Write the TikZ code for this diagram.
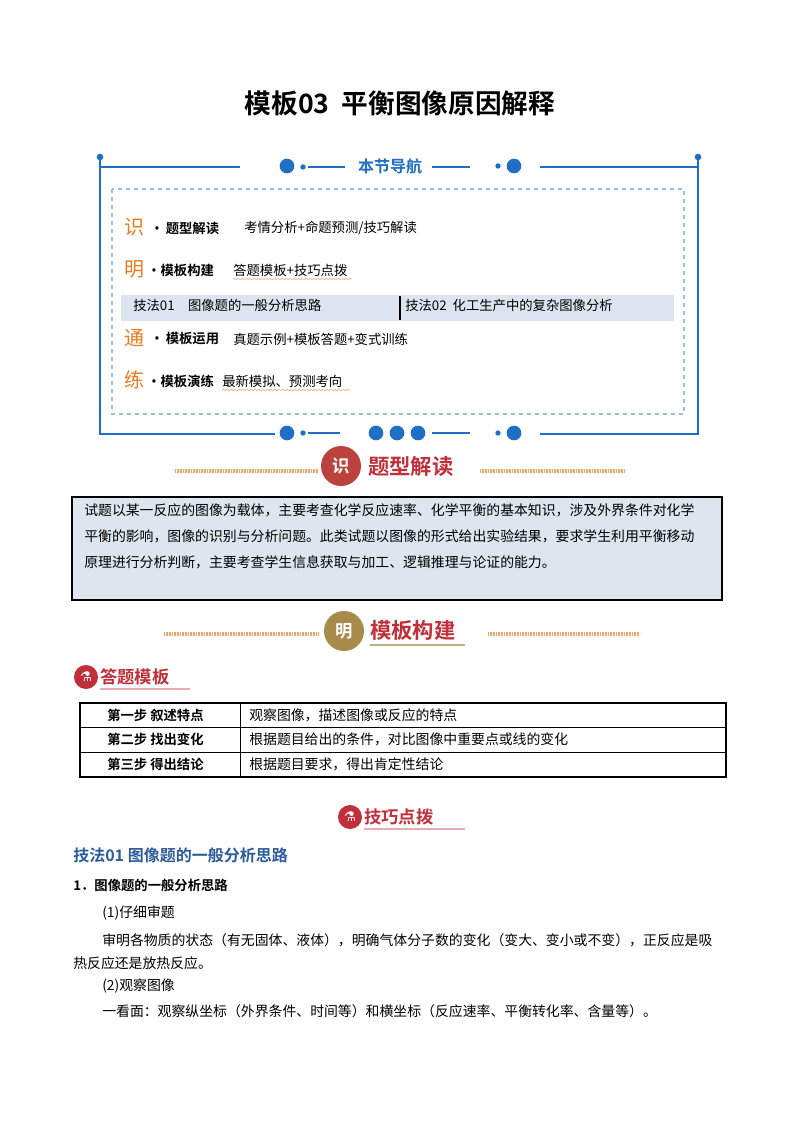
\documentclass[tikz,border=0pt]{standalone}
\usepackage{fontspec}
\setmainfont{Liberation Serif}
\newfontfamily\cjk{Noto Sans CJK SC}
\newfontfamily\cjkb{Noto Sans CJK SC Bold}
\newfontfamily\djv{DejaVu Sans}
\usetikzlibrary{decorations.pathmorphing}
\definecolor{navblue}{HTML}{1F6FC5}
\definecolor{orng}{HTML}{EE7B22}
\definecolor{band}{HTML}{DCE4F0}
\definecolor{boxbg}{HTML}{DDE5EF}
\definecolor{dred}{HTML}{C0303A}
\definecolor{hblue}{HTML}{2D5C9A}
\definecolor{gold}{HTML}{A88A4A}
\tikzset{
 txt/.style={anchor=west,inner sep=0pt,font=\cjk\fontsize{10}{12}\selectfont},
 ltxt/.style={anchor=west,inner sep=0pt,font=\cjk\fontsize{10.4}{12}\selectfont},
 bt/.style={anchor=west,inner sep=0pt,font=\cjkb\fontsize{10}{12}\selectfont},
 big/.style={anchor=west,inner sep=0pt,font=\cjk\fontsize{15}{18}\selectfont,text=orng},
 dot/.style={circle,fill=navblue,inner sep=0pt,minimum size=#1},
 hatch/.style={draw=orng!70,line width=2.5pt,dash pattern=on 0.6pt off 0.6pt},
 badge/.style={circle,fill=dred,text=white,inner sep=0pt,minimum size=18pt,font=\djv\fontsize{10}{10}\selectfont}
}
\begin{document}
\begin{tikzpicture}[x=0.75pt,y=-0.75pt]
\useasboundingbox (0,0) rectangle (800,1132);
\fill[white] (0,0) rectangle (800,1132);
\node[inner sep=0pt,font=\cjkb\fontsize{20}{24}\selectfont] (title) at (400,103) {模板03\ \ 平衡图像原因解释};
% nav frame
\draw[navblue,line width=1.2pt] (240,167) -| (100,434) -- (275,434);
\draw[navblue,line width=1.2pt] (540,167) -| (698,434) -- (540,434);
\node[dot=5pt] (c1) at (100,157) {}; \node[dot=5pt] (c2) at (698,157) {};
\draw[navblue,line width=1.2pt] (100,157)--(100,167);
\draw[navblue,line width=1.2pt] (698,157)--(698,167);
\node[dot=11pt] (d1) at (287,166) {}; \node[dot=4pt] (d2) at (303,167) {};
\draw[navblue,line width=1pt] (308,167)--(345,167);
\node[inner sep=0pt,font=\cjkb\fontsize{12}{14}\selectfont,text=navblue] (navt) at (390,166) {本节导航};
\draw[navblue,line width=1pt] (432,167)--(470,167);
\node[dot=4pt] (d3) at (498,166) {}; \node[dot=11pt] (d4) at (514,166) {};
\node[dot=11pt] (e1) at (287,433) {}; \node[dot=4pt] (e2) at (303,433) {};
\draw[navblue,line width=1pt] (308,433)--(340,433);
\node[dot=11pt] (e3) at (376,433) {}; \node[dot=11pt] (e4) at (397,433) {}; \node[dot=11pt] (e5) at (418,433) {};
\draw[navblue,line width=1pt] (432,433)--(470,433);
\node[dot=4pt] (e6) at (498,433) {}; \node[dot=11pt] (e7) at (514,433) {};
\draw[navblue!45,dashed,line width=0.8pt] (112,189) rectangle (684,414);
\fill[band] (121,295) rectangle (674,321);
\draw[black,line width=0.8pt] (400,296)--(400,320);
\node[big] (s1) at (124,227) {识};
\node[bt] (s1b) at (150,228) {·\,题型解读};
\node[txt] (s1c) at (244,228) {考情分析+命题预测/技巧解读};
\node[big] (s2) at (124,269) {明};
\node[bt] (s2b) at (147,270) {·模板构建};
\node[txt] (s2c) at (233,270) {答题模板+技巧点拨};
\draw[orng!70,decorate,decoration={snake,amplitude=0.6pt,segment length=3pt}] (233,279)--(352,279);
\node[txt] (k1) at (133,305) {技法01\quad 图像题的一般分析思路};
\node[txt] (k2) at (405,305) {技法02\ \ 化工生产中的复杂图像分析};
\node[big] (s3) at (124,338) {通};
\node[bt] (s3b) at (150,339) {·\,模板运用};
\node[txt] (s3c) at (233,339) {真题示例+模板答题+变式训练};
\node[big] (s4) at (124,380) {练};
\node[bt] (s4b) at (147,381) {·模板演练};
\node[txt] (s4c) at (222,381) {最新模拟、预测考向};
\draw[orng!70,decorate,decoration={snake,amplitude=0.6pt,segment length=3pt}] (222,390)--(350,390);
% section header 1
\draw[hatch] (175,471)--(318,471); \draw[hatch] (480,471)--(625,471);
\node[circle,fill=dred!80!gold,text=white,minimum size=30pt,inner sep=0pt,font=\cjkb\fontsize{13}{14}\selectfont] (h1) at (341,466) {识};
\node[anchor=west,inner sep=0pt,font=\cjkb\fontsize{16}{18}\selectfont,text=dred] (h1t) at (368,466) {题型解读};
% box
\draw[fill=boxbg,line width=0.8pt] (72,497) rectangle (722,600);
\node[ltxt] (i1) at (84,510) {试题以某一反应的图像为载体，主要考查化学反应速率、化学平衡的基本知识，涉及外界条件对化学};
\node[ltxt] (i2) at (84,536) {平衡的影响，图像的识别与分析问题。此类试题以图像的形式给出实验结果，要求学生利用平衡移动};
\node[ltxt] (i3) at (84,562) {原理进行分析判断，主要考查学生信息获取与加工、逻辑推理与论证的能力。};
% section header 2
\draw[hatch] (164,634)--(318,634); \draw[hatch] (488,634)--(640,634);
\node[circle,fill=gold,text=white,minimum size=30pt,inner sep=0pt,font=\cjkb\fontsize{13}{14}\selectfont] (h2) at (344,631) {明};
\node[anchor=west,inner sep=0pt,font=\cjkb\fontsize{16}{18}\selectfont,text=dred] (h2t) at (370,630) {模板构建};
\draw[gold!70,line width=1.5pt] (370,645)--(465,645);
% badge 1
\node[badge] (b1) at (86,677) {⚗};
\node[anchor=west,inner sep=0pt,font=\cjkb\fontsize{13}{15}\selectfont,text=dred] (b1t) at (100,677) {答题模板};
\draw[dred!40,line width=0.8pt] (100,689)--(190,689);
% table
\draw[line width=0.8pt] (80,703) rectangle (726,777);
\draw[line width=0.6pt] (80,727)--(726,727) (80,752)--(726,752) (240,703)--(240,777);
\node[bt] (t1) at (107,715) {第一步\ 叙述特点};
\node[bt] (t2) at (107,739) {第二步\ 找出变化};
\node[bt] (t3) at (107,764) {第三步\ 得出结论};
\node[ltxt] (u1) at (249,715) {观察图像，描述图像或反应的特点};
\node[ltxt] (u2) at (249,739) {根据题目给出的条件，对比图像中重要点或线的变化};
\node[ltxt] (u3) at (249,764) {根据题目要求，得出肯定性结论};
% badge 2
\node[badge] (b2) at (350,817) {⚗};
\node[anchor=west,inner sep=0pt,font=\cjkb\fontsize{13}{15}\selectfont,text=dred] (b2t) at (364,817) {技巧点拨};
\draw[dred!40,line width=0.8pt] (364,829)--(465,829);
% body
\node[anchor=west,inner sep=0pt,font=\cjkb\fontsize{12}{14}\selectfont,text=hblue] (sec) at (73,855) {技法01\ 图像题的一般分析思路};
\node[bt] (p1) at (73,885) {1．图像题的一般分析思路};
\node[ltxt] (p2) at (102,913) {(1)仔细审题};
\node[ltxt] (p3) at (102,940) {审明各物质的状态（有无固体、液体），明确气体分子数的变化（变大、变小或不变），正反应是吸};
\node[ltxt] (p4) at (73,963) {热反应还是放热反应。};
\node[ltxt] (p5) at (102,986) {(2)观察图像};
\node[ltxt] (p6) at (102,1011) {一看面：观察纵坐标（外界条件、时间等）和横坐标（反应速率、平衡转化率、含量等）。};
\end{tikzpicture}
\end{document}
